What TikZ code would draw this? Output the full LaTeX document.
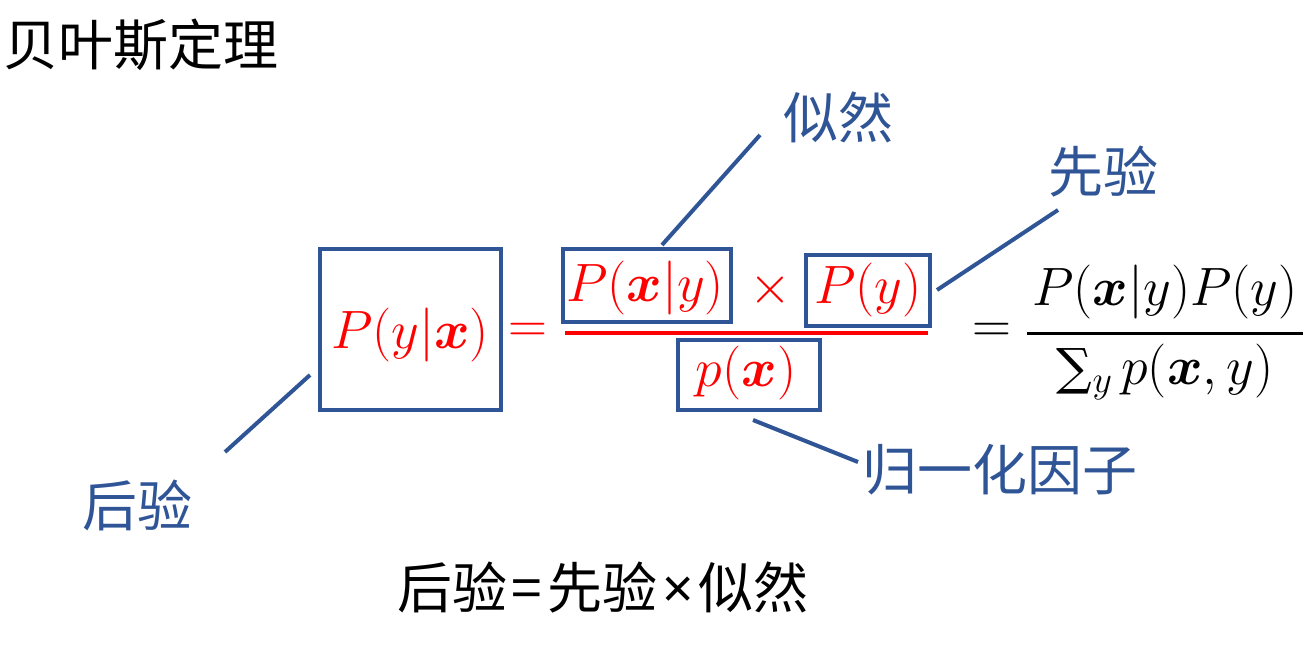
\RequirePackage{fix-cm}
\documentclass[tikz,border=0pt]{standalone}
\usepackage{amsmath,bm}
\usepackage{fontspec}
\newfontfamily\cjk{Noto Sans CJK SC}
\newfontfamily\nsans{Noto Sans}
\newfontfamily\dvserif{DejaVu Serif}
\definecolor{bblue}{HTML}{2F5597}
\definecolor{rred}{HTML}{FF0000}
\tikzset{
  box/.style={draw=bblue, line width=4pt, inner sep=0pt},
  conn/.style={draw=bblue, line width=4pt},
  lab/.style={text=bblue, font=\cjk\fontsize{55}{60}\selectfont, inner sep=0pt},
  blk/.style={text=black, font=\cjk\fontsize{55}{60}\selectfont, inner sep=0pt},
  rm/.style={text=rred, font=\fontsize{54}{60}\selectfont, inner sep=0pt},
  km/.style={text=black, font=\fontsize{54}{60}\selectfont, inner sep=0pt},
}
\begin{document}
\begin{tikzpicture}[x=1pt,y=-1pt]
\useasboundingbox[fill=white] (0,0) rectangle (1314,659);
% title
\node[blk, anchor=west] (title) at (3,45) {贝叶斯定理};
% boxes
\node[box, minimum width=181pt, minimum height=161pt] (post) at (410.5,329.5) {};
\node[box, minimum width=168pt, minimum height=73pt] (lik) at (647,285.5) {};
\node[box, minimum width=124pt, minimum height=71pt] (prior) at (868,290.5) {};
\node[box, minimum width=142pt, minimum height=70pt] (norm) at (749,375) {};
% red formula
\node[rm] (tpost) at (410,335) {$P(y|\bm{x})$};
\node[rm] (eq1) at (528,333) {$=$};
\node[rm] (tlik) at (645,288) {$P(\bm{x}|y)$};
\node[rm] (times) at (770,290) {$\times$};
\node[rm] (tprior) at (868,290) {$P(y)$};
\node[rm] (tnorm) at (746,373) {$p(\bm{x})$};
\coordinate (f1a) at (565,333);
\coordinate (f1b) at (928,333);
\draw[rred, line width=3.5pt] (f1a) -- (f1b);
% right formula
\node[km] (eq2) at (992,333) {$=$};
\node[km] (num) at (1165,292) {$P(\bm{x}|y)P(y)$};
\node[km] (den) at (1165,372) {{\dvserif\fontsize{50}{60}\selectfont ∑}$_y\,p(\bm{x},y)$};
\coordinate (f2a) at (1027,333);
\coordinate (f2b) at (1303,333);
\draw[black, line width=3pt] (f2a) -- (f2b);
% labels
\node[lab] (llik) at (838,117) {似然};
\node[lab] (lprior) at (1103,172) {先验};
\node[lab] (lpost) at (137,505) {后验};
\node[lab] (lnorm) at (1000,470) {归一化因子};
% connectors
\coordinate (s1) at (662,245); \coordinate (e1) at (760,135);
\coordinate (s2) at (937,290); \coordinate (e2) at (1058,210);
\coordinate (s3) at (310,375); \coordinate (e3) at (225,452);
\coordinate (s4) at (753,420); \coordinate (e4) at (858,462);
\draw[conn] (s1) -- (e1);
\draw[conn] (s2) -- (e2);
\draw[conn] (s3) -- (e3);
\draw[conn] (s4) -- (e4);
% bottom
\node[blk] (bottom) at (603,588) {后验\hspace{5pt}={}\hspace{5pt}先验\hspace{5pt}{\nsans ×}\hspace{5pt}似然};
\end{tikzpicture}
\end{document}
